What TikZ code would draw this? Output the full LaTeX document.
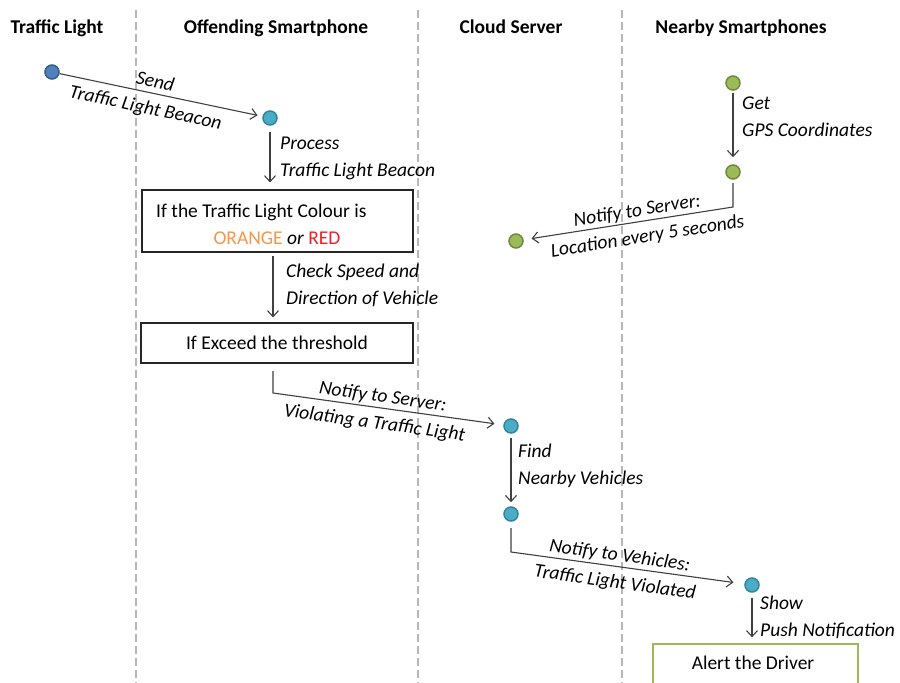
\documentclass[tikz,border=0pt]{standalone}
\usepackage{fontspec}
\setmainfont{Carlito}
\usetikzlibrary{arrows.meta}

\definecolor{laneline}{HTML}{B8B8B8}
\definecolor{inkgray}{HTML}{404040}
\definecolor{bluefill}{HTML}{4F81BD}
\definecolor{blueline}{HTML}{385D8A}
\definecolor{tealfill}{HTML}{4BACC6}
\definecolor{tealline}{HTML}{31859C}
\definecolor{greenfill}{HTML}{9BBB59}
\definecolor{greenline}{HTML}{71893F}
\definecolor{warnorange}{HTML}{F79646}
\definecolor{warnred}{HTML}{F0202A}

\begin{document}
\begin{tikzpicture}[x=1pt,y=-1pt,
  txt/.style={font=\fontsize{19.5}{23}\selectfont, text height=13pt, text depth=0pt, inner sep=0pt},
  hdr/.style={txt, font=\fontsize{19.5}{23}\selectfont\bfseries},
  note/.style={txt, font=\fontsize{19.5}{23}\selectfont\itshape, anchor=west},
  slopeup/.style={sloped, above, font=\fontsize{19.5}{23}\selectfont\itshape, text height=13pt, text depth=0pt, inner sep=5pt},
  slopedown/.style={sloped, below, font=\fontsize{19.5}{23}\selectfont\itshape, text height=13pt, text depth=0pt, inner sep=8pt},
  lane/.style={draw=laneline, line width=1.2pt, dash pattern=on 8pt off 4pt},
  flow/.style={draw=inkgray, line width=1.1pt, -{Straight Barb[length=6pt,width=11pt]}},
  dotblue/.style={circle, minimum size=14pt, inner sep=0pt, fill=bluefill, draw=blueline, line width=1.5pt},
  dotteal/.style={circle, minimum size=14pt, inner sep=0pt, fill=tealfill, draw=tealline, line width=1.5pt},
  dotgreen/.style={circle, minimum size=14pt, inner sep=0pt, fill=greenfill, draw=greenline, line width=1.5pt},
  procbox/.style={draw=black!85, line width=1.1pt, inner sep=0pt},
  alertbox/.style={draw=greenfill, line width=1.3pt, inner sep=0pt},
]
\useasboundingbox (0,0) rectangle (900,683);
\clip (0,0) rectangle (900,683);
\fill[white] (0,0) rectangle (900,683);

% swimlane separators
\draw[lane] (136,10) -- (136,690);
\draw[lane] (418,10) -- (418,690);
\draw[lane] (622,10) -- (622,690);

% lane titles
\node[hdr] (h-light) at (57,27) {Traffic Light};
\node[hdr] (h-phone) at (276,27) {Offending Smartphone};
\node[hdr] (h-cloud) at (511,27) {Cloud Server};
\node[hdr] (h-near)  at (741,27) {Nearby Smartphones};

% activity dots
\node[dotblue]  (tl)     at (52,72)   {};
\node[dotteal]  (os1)    at (270,118) {};
\node[dotteal]  (cloud1) at (511,426) {};
\node[dotteal]  (cloud2) at (511,514) {};
\node[dotteal]  (nb1)    at (752,585) {};
\node[dotgreen] (g1)     at (733,83)  {};
\node[dotgreen] (g2)     at (733,172) {};
\node[dotgreen] (g3)     at (516,241) {};

% decision boxes
\node[procbox, minimum width=271pt, minimum height=62pt] (box1) at (277.5,221) {};
\node[txt, anchor=west] (box1a) at (156,210.5) {If the Traffic Light Colour is};
\node[txt] (box1b) at (277,237.5) {\textcolor{warnorange}{ORANGE} \textit{or} \textcolor{warnred}{RED}};
\node[procbox, minimum width=272pt, minimum height=40pt, txt] (box2) at (277,343) {If Exceed the threshold};
\node[alertbox, minimum width=205pt, minimum height=60pt] (box3) at (755.5,674) {};
\node[txt] (box3t) at (753,663) {Alert the Driver};

% beacon from the traffic light
\draw[flow, shorten >=5pt] (tl) -- (os1)
  node[slopeup, pos=0.46] (l-send) {Send}
  node[slopedown, pos=0.44] (l-beacon) {Traffic Light Beacon};

% processing on the offending phone
\draw[flow, shorten <=6pt, shorten >=7pt] (os1) -- (os1 |- box1.north);
\node[note] (l-proc1) at (280,142.5) {Process};
\node[note] (l-proc2) at (280,169.5) {Traffic Light Beacon};

\draw[flow, shorten <=3pt, shorten >=5pt] ([xshift=-4.5pt]box1.south) -- ([xshift=-4pt]box2.north);
\node[note] (l-chk1) at (286,271) {Check Speed and};
\node[note] (l-chk2) at (286,297.5) {Direction of Vehicle};

% report to the server
\coordinate (b2out) at (273,371);
\coordinate (b2bend) at (273,393);
\draw[flow, shorten >=9pt] (b2out) -- (b2bend) -- (cloud1)
  node[slopeup, pos=0.47] (l-ns1) {Notify to Server:}
  node[slopedown, pos=0.45] (l-viol) {Violating a Traffic Light};

\draw[flow, shorten <=4pt, shorten >=4pt] (cloud1) -- (cloud2);
\node[note] (l-find1) at (518,451) {Find};
\node[note] (l-find2) at (518,478) {Nearby Vehicles};

% notify the nearby vehicles
\coordinate (c2out) at (511,528);
\coordinate (c2bend) at (511,552);
\draw[flow, shorten >=11pt] (c2out) -- (c2bend) -- (nb1)
  node[slopeup, pos=0.46] (l-nv) {Notify to Vehicles:}
  node[slopedown, pos=0.455] (l-tlv) {Traffic Light Violated};

\draw[flow, shorten <=5pt, shorten >=6pt] (nb1) -- (nb1 |- box3.north);
\node[note] (l-show1) at (760,603) {Show};
\node[note] (l-show2) at (760,630) {Push Notification};

% nearby phones report their position
\draw[flow, shorten <=2pt, shorten >=7pt] (g1) -- (g2);
\node[note] (l-get1) at (742,103) {Get};
\node[note] (l-get2) at (742,129.5) {GPS Coordinates};

\coordinate (g2out) at (733,183);
\coordinate (g2bend) at (733,207);
\draw[flow, shorten >=8pt] (g2out) -- (g2bend) -- (g3)
  node[slopeup, pos=0.45] (l-ns2) {Notify to Server:}
  node[slopedown, pos=0.42] (l-loc) {Location every 5 seconds};
\end{tikzpicture}
\end{document}
